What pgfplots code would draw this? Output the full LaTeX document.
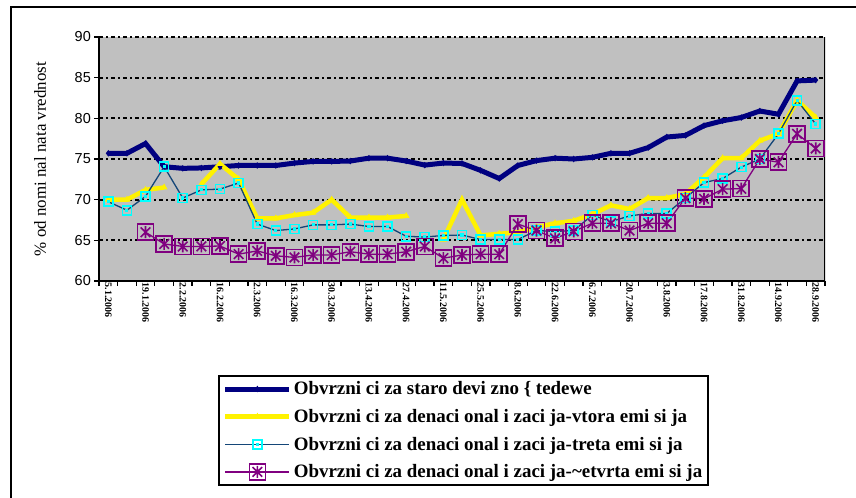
\documentclass[border=0pt]{standalone}
\usepackage{fontspec}
\setmainfont{Liberation Serif}
\newfontfamily\arial{Liberation Sans}
\usepackage{pgfplots}
\usepackage{pgfplotstable}
\pgfplotsset{compat=1.18}
\definecolor{navyc}{RGB}{0,0,128}
\definecolor{plotgray}{RGB}{192,192,192}
\definecolor{steel}{RGB}{20,70,120}
\definecolor{purp}{RGB}{128,0,128}
\definecolor{cyanc}{RGB}{0,255,255}

\pgfdeclareplotmark{cysq}{%
  \pgfpathrectangle{\pgfqpoint{-\pgfplotmarksize}{-\pgfplotmarksize}}{\pgfqpoint{2\pgfplotmarksize}{2\pgfplotmarksize}}%
  \pgfusepathqstroke
  \pgfpathrectangle{\pgfqpoint{-0.35\pgfplotmarksize}{-0.35\pgfplotmarksize}}{\pgfqpoint{0.7\pgfplotmarksize}{0.7\pgfplotmarksize}}%
  \pgfusepathqfill}
\pgfdeclareplotmark{sqast}{%
  \pgfpathrectangle{\pgfqpoint{-\pgfplotmarksize}{-\pgfplotmarksize}}{\pgfqpoint{2\pgfplotmarksize}{2\pgfplotmarksize}}%
  \pgfusepathqstroke
  \pgfpathmoveto{\pgfqpoint{-0.6\pgfplotmarksize}{-0.6\pgfplotmarksize}}\pgfpathlineto{\pgfqpoint{0.6\pgfplotmarksize}{0.6\pgfplotmarksize}}%
  \pgfpathmoveto{\pgfqpoint{-0.6\pgfplotmarksize}{0.6\pgfplotmarksize}}\pgfpathlineto{\pgfqpoint{0.6\pgfplotmarksize}{-0.6\pgfplotmarksize}}%
  \pgfpathmoveto{\pgfqpoint{0pt}{-0.75\pgfplotmarksize}}\pgfpathlineto{\pgfqpoint{0pt}{0.75\pgfplotmarksize}}%
  \pgfusepathqstroke}

\pgfplotstableread{
i a b c d
0 75.7 70.0 69.75 nan
1 75.7 70.0 68.7 nan
2 76.9 71.2 70.4 66.0
3 74.05 71.5 74.05 64.55
4 73.85 nan 70.2 64.25
5 73.9 71.9 71.2 64.25
6 74.05 74.4 71.3 64.3
7 74.2 72.5 72.05 63.3
8 74.2 67.7 67.0 63.7
9 74.2 67.7 66.2 63.1
10 74.5 68.1 66.4 62.9
11 74.7 68.4 66.9 63.2
12 74.7 70.0 66.9 63.2
13 74.75 67.8 67.0 63.6
14 75.1 67.8 66.7 63.3
15 75.1 67.8 66.7 63.3
16 74.75 68.0 65.5 63.6
17 74.25 nan 65.4 64.25
18 74.5 65.1 65.6 62.8
19 74.45 70.0 65.65 63.2
20 73.6 65.6 65.1 63.3
21 72.6 65.8 65.1 63.3
22 74.2 66.0 65.1 67.0
23 74.8 66.6 66.2 66.2
24 75.1 67.1 66.1 65.25
25 75.0 67.4 66.2 66.1
26 75.2 68.2 68.1 67.1
27 75.7 69.3 67.3 67.1
28 75.7 68.85 68.0 66.2
29 76.4 70.2 68.3 67.1
30 77.7 70.2 68.3 67.1
31 77.9 70.7 70.2 70.2
32 79.1 72.75 72.1 70.1
33 79.7 75.1 72.6 71.3
34 80.1 75.1 74.0 71.35
35 80.9 77.25 75.0 75.0
36 80.5 78.1 78.1 74.6
37 84.6 82.2 82.2 78.1
38 84.7 80.1 79.3 76.3
}\datatable

\begin{document}
\begin{tikzpicture}[x=1bp,y=1bp]
\useasboundingbox (0,0) rectangle (856,498);
\fill[white] (0,0) rectangle (856,498);
\draw[line width=1.6bp,black] (11,-20) -- (11,491) -- (900,491);
\begin{axis}[
  at={(99bp,217bp)}, anchor=south west,
  scale only axis, width=726bp, height=244bp,
  xmin=-0.5, xmax=38.5, ymin=60, ymax=90,
  axis background/.style={fill=plotgray},
  separate axis lines,
  axis x line*=bottom, axis y line*=left,
  axis line style={line width=1.5bp, black, -},
  ytick={60,65,...,90},
  ymajorgrids,
  major grid style={black, line width=2.2bp, dash pattern=on 4bp off 3bp on 2bp off 3bp},
  tick align=outside,
  major tick length=5bp,
  tick style={black, line width=1.2bp},
  xtick={-0.5,0.5,...,38.5},
  xticklabels={},
  extra x ticks={0,2,...,38},
  extra x tick labels={5.1.2006,19.1.2006,2.2.2006,16.2.2006,2.3.2006,16.3.2006,30.3.2006,13.4.2006,27.4.2006,11.5.2006,25.5.2006,8.6.2006,22.6.2006,6.7.2006,20.7.2006,3.8.2006,17.8.2006,31.8.2006,14.9.2006,28.9.2006},
  extra x tick style={major tick length=0pt},
  xticklabel style={font=\bfseries\fontsize{10}{11}\selectfont, rotate=-90, anchor=west, inner sep=1.5bp},
  yticklabel style={font=\arial\fontsize{14.5}{16}\selectfont, inner sep=3bp},
  /pgf/number format/assume math mode=true,
  ylabel={\% od nomi nal nata vrednost},
  ylabel style={at={(axis description cs:-0.081,0.5)}, anchor=center, font=\fontsize{17}{19}\selectfont},
  unbounded coords=jump,
  legend style={at={(axis description cs:0.164,-0.385)}, anchor=north west,
    draw=black, line width=1.6bp, fill=white,
    font=\bfseries\fontsize{19}{21}\selectfont,
    row sep=9bp, inner sep=4bp,
    nodes={inner sep=2bp}},
  legend cell align=left,
  legend image code/.code={\draw[mark repeat=2,mark phase=2] plot coordinates {(0bp,0bp) (32bp,0bp) (64bp,0bp)};},
]
\addplot[navyc, line width=5bp, mark=diamond*, mark size=2.5bp, mark options={line width=1bp}] table[x=i,y=a] {\datatable};
\addlegendentry{Obvrzni ci za staro devi zno \{ tedewe}
\addplot[yellow, line width=4.5bp, mark=triangle*, mark size=3bp, mark options={line width=1bp}] table[x=i,y=b] {\datatable};
\addlegendentry{Obvrzni ci za denaci onal i zaci ja-vtora emi si ja}
\addplot[steel, line width=1.3bp, mark=cysq, mark size=4.5bp, mark options={cyanc, line width=1.6bp}] table[x=i,y=c] {\datatable};
\addlegendentry{Obvrzni ci za denaci onal i zaci ja-treta emi si ja}
\addplot[purp, line width=1.3bp, mark=sqast, mark size=8bp, mark options={purp, line width=1.6bp}] table[x=i,y=d] {\datatable};
\addlegendentry{Obvrzni ci za denaci onal i zaci ja-\textasciitilde etvrta emi si ja}
\draw[black, line width=1.5bp] (rel axis cs:1,0) -- (rel axis cs:1,1);
\end{axis}
\end{tikzpicture}
\end{document}
